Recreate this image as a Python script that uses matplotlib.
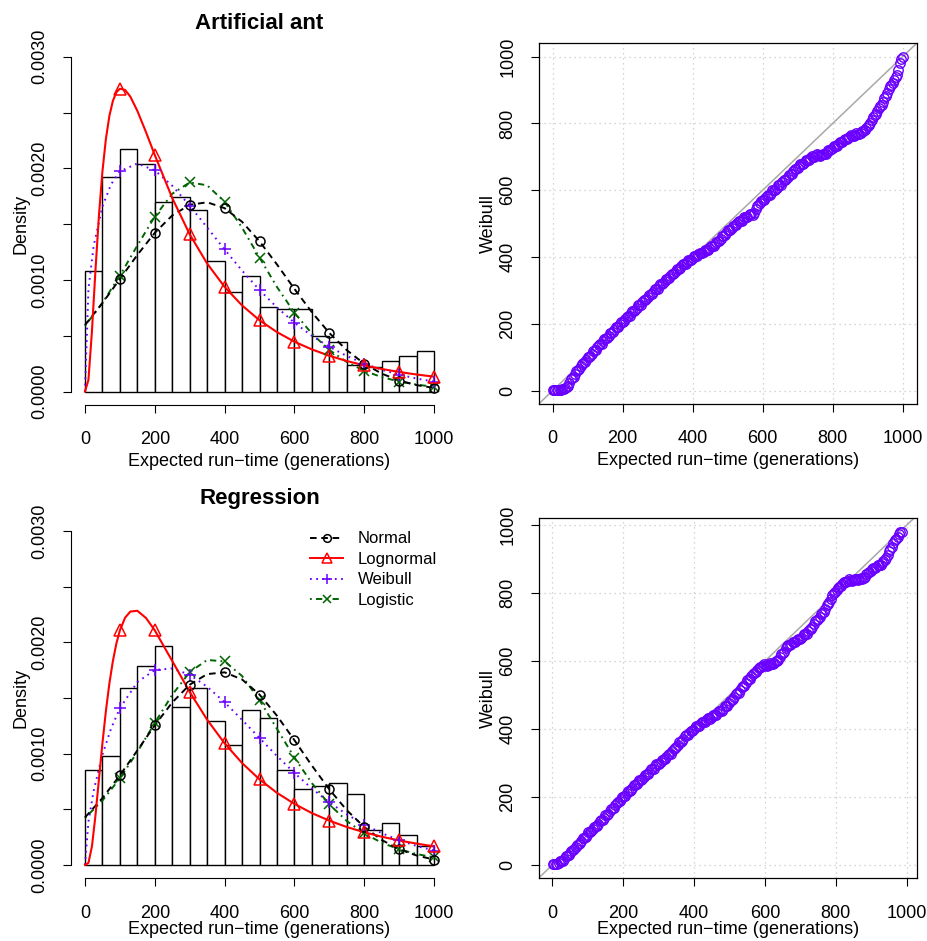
import matplotlib
matplotlib.use("Agg")
import matplotlib.pyplot as plt
from matplotlib.lines import Line2D

plt.rcParams['font.family'] = ['Liberation Sans', 'DejaVu Sans']

# histogram bins (width 50) and densities
bin_left = [0, 50, 100, 150, 200, 250, 300, 350, 400, 450,
            500, 550, 600, 650, 700, 750, 800, 850, 900, 950]
ant_hist = [0.00108, 0.00192, 0.00217, 0.00204, 0.00170, 0.00174, 0.00163, 0.00117, 0.00089, 0.00104,
            0.00076, 0.00074, 0.00074, 0.00050, 0.00044, 0.00024, 0.00022, 0.00027, 0.00032, 0.00036]
reg_hist = [0.00085, 0.00098, 0.00159, 0.00179, 0.00197, 0.00142, 0.00159, 0.00129, 0.00108, 0.00139,
            0.00132, 0.00085, 0.00068, 0.00071, 0.00074, 0.00064, 0.00031, 0.00038, 0.00027, 0.00017]

# fitted density curves, sampled along x
x_curve = [0, 50, 100, 150, 200, 250, 300, 350, 400, 450, 500,
           550, 600, 650, 700, 750, 800, 850, 900, 950, 1000]
x_weib = [0, 10, 25, 50, 75, 100, 150, 200, 250, 300, 350, 400,
          450, 500, 550, 600, 650, 700, 750, 800, 850, 900, 950, 1000]
x_lnorm = [0, 10, 20, 30, 40, 50, 60, 70, 80, 90, 100, 115, 130, 150, 175, 200,
           250, 300, 350, 400, 450, 500, 550, 600, 650, 700, 750, 800, 850, 900, 950, 1000]

ant_normal = [0.000596, 0.000793, 0.001008, 0.001224, 0.001422, 0.001578, 0.001673, 0.001696, 0.001643, 0.001521,
              0.001346, 0.001139, 0.000920, 0.000711, 0.000525, 0.000371, 0.000250, 0.000161, 0.0000993, 0.0000584,
              0.0000329]
ant_logistic = [0.000589, 0.000794, 0.001039, 0.001308, 0.001568, 0.001772, 0.001874, 0.001848, 0.001700, 0.001468,
                0.001200, 0.000937, 0.000707, 0.000519, 0.000373, 0.000265, 0.000186, 0.000130, 0.0000902, 0.0000624,
                0.0000431]
ant_weibull = [0, 0.000921, 0.001307, 0.001658, 0.001858, 0.001973, 0.002043, 0.001982, 0.001844, 0.001666,
               0.001470, 0.001273, 0.001084, 0.000910, 0.000754, 0.000617, 0.000500, 0.000401, 0.000319, 0.000251,
               0.000196, 0.000152, 0.000117, 0.0000895]
ant_lognormal = [0, 0.000105, 0.000540, 0.001082, 0.001575, 0.001970, 0.002264, 0.002470, 0.002604, 0.002681,
                 0.002713, 0.002702, 0.002642, 0.002515, 0.002323, 0.002119, 0.001734, 0.001409, 0.001147, 0.000938,
                 0.000772, 0.000639, 0.000533, 0.000447, 0.000378, 0.000321, 0.000274, 0.000235, 0.000203, 0.000176,
                 0.000153, 0.000134]

reg_normal = [0.000427, 0.000601, 0.000805, 0.001029, 0.001255, 0.001460, 0.001620, 0.001715, 0.001731, 0.001667,
              0.001531, 0.001341, 0.001121, 0.000893, 0.000679, 0.000492, 0.000341, 0.000225, 0.000141, 0.0000849,
              0.0000486]
reg_logistic = [0.000422, 0.000579, 0.000778, 0.001015, 0.001276, 0.001529, 0.001733, 0.001842, 0.001829, 0.001698,
                0.001481, 0.001223, 0.000965, 0.000735, 0.000544, 0.000395, 0.000283, 0.000200, 0.000141, 0.0000982,
                0.0000684]
reg_weibull = [0, 0.000389, 0.000668, 0.000991, 0.001228, 0.001408, 0.001643, 0.001752, 0.001766, 0.001709,
               0.001602, 0.001462, 0.001304, 0.001141, 0.000979, 0.000827, 0.000687, 0.000563, 0.000455, 0.000363,
               0.000286, 0.000222, 0.000171, 0.000130]
reg_lognormal = [0, 0.0000188, 0.000167, 0.000442, 0.000769, 0.001092, 0.001384, 0.001632, 0.001832, 0.001990,
                 0.002108, 0.002222, 0.002277, 0.002284, 0.002219, 0.002108, 0.001833, 0.001555, 0.001305, 0.001093,
                 0.000916, 0.000769, 0.000648, 0.000549, 0.000466, 0.000398, 0.000341, 0.000294, 0.000254, 0.000220,
                 0.000192, 0.000167]

# Q-Q points: empirical (x) vs Weibull quantiles (y)
qq_ant_emp = [0, 8, 16, 24, 32, 40, 48, 56, 64, 72, 80, 88, 96, 104, 112, 120, 128, 136, 144, 152,
              160, 168, 176, 184, 192, 200, 208, 216, 224, 232, 240, 248, 256, 264, 272, 280, 288, 296, 304, 312,
              320, 328, 336, 344, 352, 360, 368, 376, 384, 392, 400, 408, 416, 424, 432, 440, 448, 456, 464, 472,
              480, 488, 496, 504, 512, 520, 528, 536, 544, 552, 560, 568, 576, 584, 592, 600, 608, 616, 624, 632,
              640, 648, 656, 664, 672, 680, 688, 696, 704, 712, 720, 728, 736, 744, 752, 760, 768, 776, 784, 792,
              800, 808, 816, 824, 832, 840, 848, 856, 864, 872, 880, 888, 896, 904, 912, 920, 928, 936, 944, 952,
              960, 968, 976, 984, 992, 1000,
              4, 12, 20, 28, 36, 44, 52, 60, 68, 76, 84, 92, 100, 108, 116, 124, 132, 140, 148, 156,
              164, 172, 180, 188, 196, 204, 212, 220, 228, 236, 244, 252, 260, 268, 276, 284, 292, 300, 308, 316,
              324, 332, 340, 348, 356, 364, 372, 380, 388, 396, 404, 412, 420, 428, 436, 444, 452, 460, 468, 476,
              484, 492, 500, 508, 516, 524, 532, 540, 548, 556, 564, 572, 580, 588, 596, 604, 612, 620, 628, 636,
              644, 652, 660, 668, 676, 684, 692, 700, 708, 716, 724, 732, 740, 748, 756, 764, 772, 780, 788, 796,
              804, 812, 820, 828, 836, 844, 852, 860, 868, 876, 884, 892, 900, 908, 916, 924, 932, 940, 948, 956,
              964, 972, 980, 988, 996]
qq_ant_theo = [1, 2, 2, 3, 4, 10, 24, 38, 50, 62, 74, 83, 93, 102, 111, 121, 130, 139, 148, 157,
               165, 173, 182, 190, 198, 206, 214, 223, 231, 239, 248, 256, 264, 272, 280, 288, 296, 304, 312, 320,
               327, 335, 342, 350, 358, 365, 372, 379, 386, 392, 398, 403, 408, 412, 416, 420, 426, 432, 439, 447,
               455, 464, 473, 482, 488, 495, 502, 509, 515, 520, 525, 528, 532, 552, 562, 570, 578, 585, 593, 601,
               608, 616, 624, 631, 640, 648, 657, 665, 673, 679, 686, 692, 697, 701, 705, 705, 705, 708, 714, 721,
               727, 732, 738, 743, 749, 754, 760, 763, 766, 768, 772, 777, 785, 796, 810, 824, 838, 851, 864, 882,
               902, 916, 930, 944, 980, 1000,
               2, 2, 3, 4, 7, 14, 34, 41, 59, 65, 81, 85, 100, 104, 119, 123, 137, 141, 155, 158,
               172, 175, 189, 191, 205, 207, 221, 224, 238, 241, 255, 257, 271, 273, 287, 289, 303, 305, 319, 321,
               334, 336, 349, 351, 364, 366, 378, 380, 392, 392, 403, 403, 413, 411, 421, 420, 432, 433, 446, 448,
               462, 466, 480, 482, 494, 496, 508, 509, 520, 520, 529, 527, 545, 555, 569, 571, 584, 586, 600, 602,
               615, 617, 630, 633, 647, 650, 664, 666, 679, 680, 692, 692, 702, 701, 708, 703, 709, 709, 720, 722,
               732, 733, 743, 744, 754, 755, 764, 762, 770, 768, 777, 779, 793, 801, 820, 829, 847, 855, 876, 890,
               912, 921, 940, 960, 992]

qq_reg_emp = [2, 10, 18, 26, 34, 42, 50, 58, 66, 74, 82, 90, 98, 106, 114, 122, 130, 138, 146, 154,
              162, 170, 178, 186, 194, 202, 210, 218, 226, 234, 242, 250, 258, 266, 274, 282, 290, 298, 306, 314,
              322, 330, 338, 346, 354, 362, 370, 378, 386, 394, 402, 410, 418, 426, 434, 442, 450, 458, 466, 474,
              482, 490, 498, 506, 514, 522, 530, 538, 546, 554, 562, 570, 578, 586, 594, 602, 610, 618, 626, 634,
              642, 650, 658, 666, 674, 682, 690, 698, 706, 714, 722, 730, 738, 746, 754, 762, 770, 778, 786, 794,
              802, 810, 818, 826, 834, 842, 850, 858, 866, 874, 882, 890, 898, 906, 914, 922, 930, 938, 946, 954,
              962, 970, 978, 986,
              6, 14, 22, 30, 38, 46, 54, 62, 70, 78, 86, 94, 102, 110, 118, 126, 134, 142, 150, 158,
              166, 174, 182, 190, 198, 206, 214, 222, 230, 238, 246, 254, 262, 270, 278, 286, 294, 302, 310, 318,
              326, 334, 342, 350, 358, 366, 374, 382, 390, 398, 406, 414, 422, 430, 438, 446, 454, 462, 470, 478,
              486, 494, 502, 510, 518, 526, 534, 542, 550, 558, 566, 574, 582, 590, 598, 606, 614, 622, 630, 638,
              646, 654, 662, 670, 678, 686, 694, 702, 710, 718, 726, 734, 742, 750, 758, 766, 774, 782, 790, 798,
              806, 814, 822, 830, 838, 846, 854, 862, 870, 878, 886, 894, 902, 910, 918, 926, 934, 942, 950, 958,
              966, 974, 982]
qq_reg_theo = [2, 2, 5, 12, 19, 27, 35, 44, 53, 62, 71, 80, 89, 97, 106, 114, 122, 131, 139, 148,
               158, 167, 176, 185, 194, 203, 211, 219, 228, 236, 244, 251, 259, 267, 274, 282, 290, 297, 304, 311,
               319, 326, 335, 344, 354, 363, 372, 381, 388, 395, 402, 409, 416, 422, 427, 431, 435, 440, 446, 452,
               460, 468, 476, 485, 495, 505, 515, 526, 536, 546, 556, 565, 574, 583, 586, 588, 589, 591, 594, 600,
               611, 624, 637, 646, 651, 656, 661, 666, 673, 680, 687, 695, 708, 721, 731, 741, 754, 769, 784, 800,
               808, 818, 828, 833, 836, 838, 839, 840, 841, 842, 848, 860, 866, 873, 878, 884, 889, 896, 913, 930,
               946, 958, 974, 980,
               2, 2, 11, 13, 26, 28, 42, 46, 60, 64, 78, 82, 96, 99, 113, 115, 129, 132, 146, 150,
               165, 169, 183, 187, 201, 204, 218, 221, 235, 237, 250, 252, 266, 268, 281, 283, 296, 298, 310, 312,
               325, 328, 342, 346, 361, 365, 379, 382, 394, 396, 408, 410, 422, 422, 432, 430, 440, 440, 452, 453,
               467, 469, 483, 487, 503, 507, 523, 528, 544, 548, 563, 567, 581, 582, 590, 586, 593, 590, 600, 603,
               620, 628, 644, 646, 656, 656, 666, 667, 679, 681, 694, 699, 717, 724, 739, 745, 764, 774, 795, 802,
               816, 821, 833, 832, 840, 836, 842, 838, 844, 843, 857, 861, 872, 873, 884, 884, 895, 902, 924, 936,
               955, 964, 979]

xticks = [0, 200, 400, 600, 800, 1000]
dens_ticks = [0, 0.0005, 0.0010, 0.0015, 0.0020, 0.0025, 0.0030]
dens_labels = ['0.0000', '', '0.0010', '', '0.0020', '', '0.0030']
titles = ['Artificial ant', 'Regression']
fit_names = ['Normal', 'Lognormal', 'Weibull', 'Logistic']

violet = '#6A00FF'
styles = {
    'Normal': dict(color='black', ls=(0, (3.4, 2.4)), marker='o', ms=6.5),
    'Lognormal': dict(color='red', ls='-', marker='^', ms=8.5),
    'Weibull': dict(color=violet, ls=(0, (0.9, 2.3)), marker='+', ms=9),
    'Logistic': dict(color='#006400', ls=(0, (0.9, 2.2, 3.2, 2.2)), marker='x', ms=7),
}

fig = plt.figure(figsize=(9.28, 9.41), dpi=100)
hist_axes = [fig.add_axes([0.0765, 0.5696, 0.4063, 0.3844]),
             fig.add_axes([0.0765, 0.0666, 0.4063, 0.3832])]
qq_axes = [fig.add_axes([0.5811, 0.5707, 0.4067, 0.3833]),
           fig.add_axes([0.5811, 0.0666, 0.4067, 0.3832])]
# bottom row x labels sit a little higher so they are not clipped by the figure edge
xlabel_pads = [3, -0.5]

hist_sets = [ant_hist, reg_hist]
curve_sets = [
    {'Normal': (x_curve, ant_normal), 'Lognormal': (x_lnorm, ant_lognormal),
     'Weibull': (x_weib, ant_weibull), 'Logistic': (x_curve, ant_logistic)},
    {'Normal': (x_curve, reg_normal), 'Lognormal': (x_lnorm, reg_lognormal),
     'Weibull': (x_weib, reg_weibull), 'Logistic': (x_curve, reg_logistic)},
]

for i, ax in enumerate(hist_axes):
    ax.bar(bin_left, hist_sets[i], width=50, align='edge', facecolor='white',
           edgecolor='black', linewidth=1.0, zorder=1)
    for name in ['Logistic', 'Weibull', 'Normal', 'Lognormal']:
        xs, ys = curve_sets[i][name]
        st = styles[name]
        lw = 1.5 if name == 'Lognormal' else 1.4
        ax.plot(xs, ys, color=st['color'], linestyle=st['ls'], linewidth=lw, zorder=3)
        mx = [x for x in xs if x > 0 and x % 100 == 0]
        my = [y for x, y in zip(xs, ys) if x > 0 and x % 100 == 0]
        ax.plot(mx, my, linestyle='none', marker=st['marker'], ms=st['ms'],
                mfc='none', mec=st['color'], mew=1.1, zorder=4)

    ax.set_xlim(-40, 1040)
    ax.set_ylim(-0.00012, 0.00312)
    ax.spines['top'].set_visible(False)
    ax.spines['right'].set_visible(False)
    ax.spines['left'].set_bounds(0, 0.003)
    ax.spines['bottom'].set_bounds(0, 1000)
    ax.set_xticks(xticks)
    ax.set_yticks(dens_ticks)
    ax.set_yticklabels(dens_labels)
    ax.tick_params(axis='both', direction='out', length=5.5, width=0.8, labelsize=13)
    ax.tick_params(axis='x', pad=13.5)
    ax.tick_params(axis='y', pad=11, labelrotation=90)
    for lab in ax.get_yticklabels():
        lab.set_va('center')
    ax.set_xlabel('Expected run\u2212time (generations)', fontsize=13, labelpad=xlabel_pads[i])
    ax.set_ylabel('Density', fontsize=13, labelpad=1)
    ax.set_title(titles[i], fontsize=16, fontweight='bold', pad=10)

# legend in the regression panel
handles = []
for name in fit_names:
    st = styles[name]
    handles.append(Line2D([], [], color=st['color'], linestyle=st['ls'], linewidth=1.4,
                          marker=st['marker'], ms=st['ms'] * 0.85, mfc='none', mec=st['color'], mew=1.1))
hist_axes[1].legend(handles, fit_names, loc='upper left', bbox_to_anchor=(0.635, 0.962),
                    frameon=False, fontsize=12, handlelength=1.95, handletextpad=0.9,
                    labelspacing=0.33, borderpad=0, borderaxespad=0, numpoints=1)

qq_sets = [(qq_ant_emp, qq_ant_theo, (-38.3, 1040), (-40, 1040)),
           (qq_reg_emp, qq_reg_theo, (-36.7, 1028), (-39.2, 1021.6))]
for i, (ax, (qx, qy, xl, yl)) in enumerate(zip(qq_axes, qq_sets)):
    ax.set_axisbelow(True)
    ax.grid(True, linestyle=(0, (1, 3)), color='#C8C8C8', linewidth=0.9)
    ax.axline((0, 0), slope=1, color='#A8A8A8', linewidth=1.1, zorder=2)
    ax.plot(qx, qy, linestyle='none', marker='o', ms=6.8, mfc='none', mec=violet, mew=1.0, zorder=3)
    ax.set_xlim(*xl)
    ax.set_ylim(*yl)
    ax.set_xticks(xticks)
    ax.set_yticks(xticks)
    for sp in ax.spines.values():
        sp.set_linewidth(0.9)
    ax.tick_params(axis='both', direction='out', length=5.5, width=0.8, labelsize=13)
    ax.tick_params(axis='x', pad=13.5)
    ax.tick_params(axis='y', pad=11, labelrotation=90)
    for lab in ax.get_yticklabels():
        lab.set_va('center')
    ax.set_xlabel('Expected run\u2212time (generations)', fontsize=13, labelpad=xlabel_pads[i])
    ax.set_ylabel('Weibull', fontsize=13, labelpad=2)

fig.savefig('out.png', dpi=100)
